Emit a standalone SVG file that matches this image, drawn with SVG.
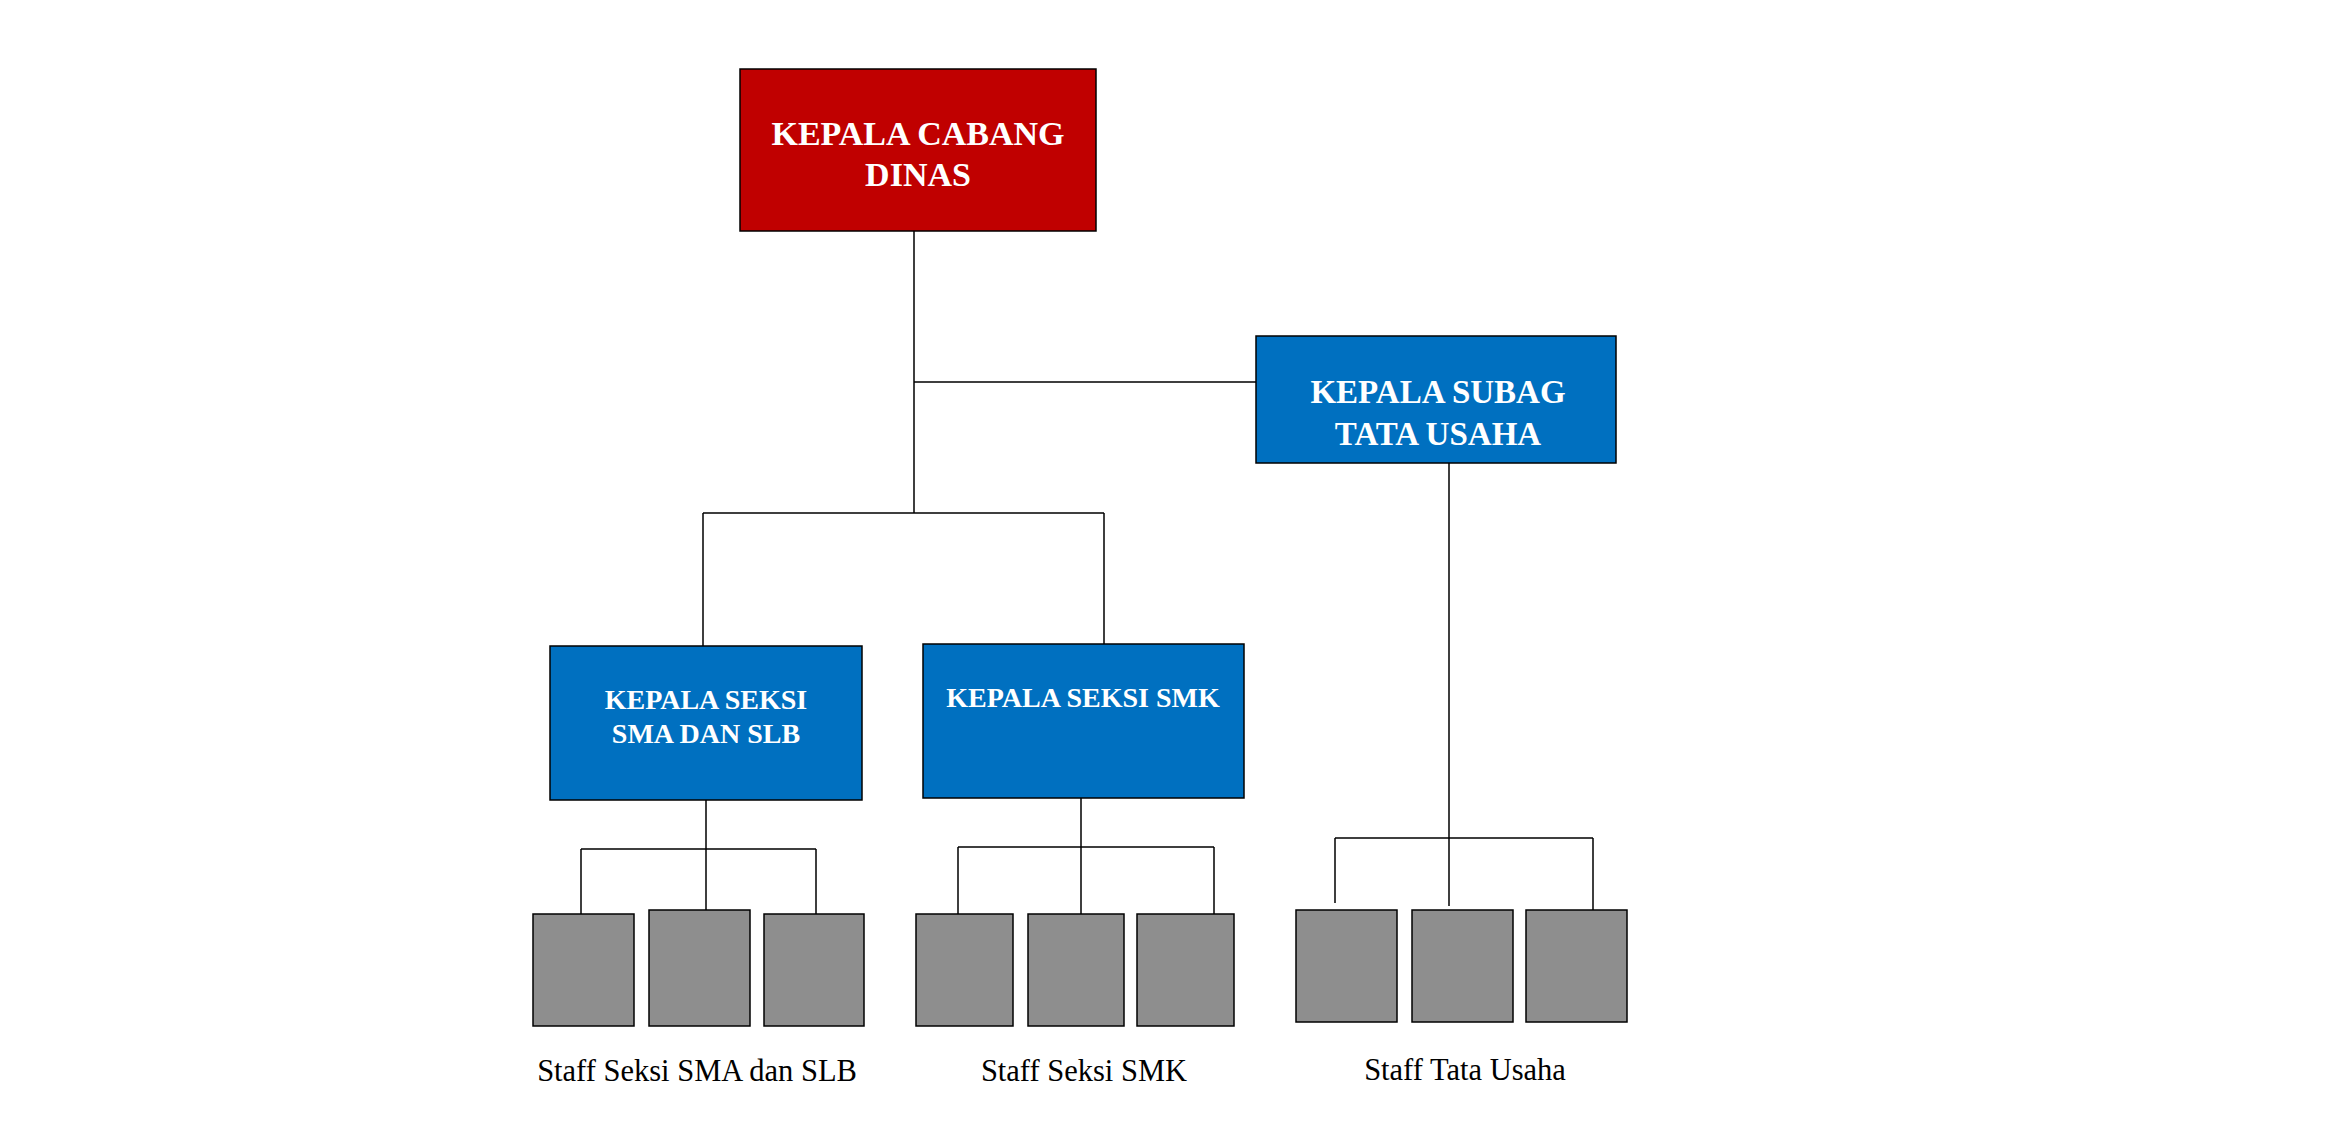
<svg xmlns="http://www.w3.org/2000/svg" width="2339" height="1142" viewBox="0 0 2339 1142">
<style>
.box{stroke:#000;stroke-width:1.5}
.red{fill:#C00000}
.blue{fill:#0070C0}
.grey{fill:#8E8E8E}
.t{font-family:"Liberation Serif","Times New Roman",serif;font-weight:bold;fill:#fff;text-anchor:middle}
.lbl{font-family:"Liberation Serif","Times New Roman",serif;font-size:30.5px;fill:#000;text-anchor:middle}
.c{stroke:#000;stroke-width:1.5;fill:none}
</style>
<rect width="2339" height="1142" fill="#fff"/>
<g id="connectors">
<path class="c" d="M914 231V513M914 382H1256M703 513H1104M703 513V646M1104 513V644"/>
<path class="c" d="M1449 462V906M1335 838H1593M1335 838V903M1593 838V910"/>
<path class="c" d="M706 800V910M581 849H816M581 849V914M816 849V914"/>
<path class="c" d="M1081 798V914M958 847H1214M958 847V914M1214 847V914"/>
</g>
<g id="kepala-cabang">
<rect class="box red" x="740" y="69" width="356" height="162"/>
<text class="t" font-size="34" x="918" y="145">KEPALA CABANG</text>
<text class="t" font-size="34" x="918" y="186">DINAS</text>
</g>
<g id="kepala-subag">
<rect class="box blue" x="1256" y="336" width="360" height="127"/>
<text class="t" font-size="33" x="1438" y="403">KEPALA SUBAG</text>
<text class="t" font-size="33" x="1438" y="445">TATA USAHA</text>
</g>
<g id="kepala-seksi-sma">
<rect class="box blue" x="550" y="646" width="312" height="154"/>
<text class="t" font-size="28" x="706" y="709">KEPALA SEKSI</text>
<text class="t" font-size="28" x="706" y="743">SMA DAN SLB</text>
</g>
<g id="kepala-seksi-smk">
<rect class="box blue" x="923" y="644" width="321" height="154"/>
<text class="t" font-size="28" x="1083" y="707">KEPALA SEKSI SMK</text>
</g>
<g id="staff-sma">
<rect class="box grey" x="533" y="914" width="101" height="112"/>
<rect class="box grey" x="649" y="910" width="101" height="116"/>
<rect class="box grey" x="764" y="914" width="100" height="112"/>
<text class="lbl" x="697" y="1081">Staff Seksi SMA dan SLB</text>
</g>
<g id="staff-smk">
<rect class="box grey" x="916" y="914" width="97" height="112"/>
<rect class="box grey" x="1028" y="914" width="96" height="112"/>
<rect class="box grey" x="1137" y="914" width="97" height="112"/>
<text class="lbl" x="1084" y="1081">Staff Seksi SMK</text>
</g>
<g id="staff-tu">
<rect class="box grey" x="1296" y="910" width="101" height="112"/>
<rect class="box grey" x="1412" y="910" width="101" height="112"/>
<rect class="box grey" x="1526" y="910" width="101" height="112"/>
<text class="lbl" x="1465" y="1080">Staff Tata Usaha</text>
</g>
</svg>
